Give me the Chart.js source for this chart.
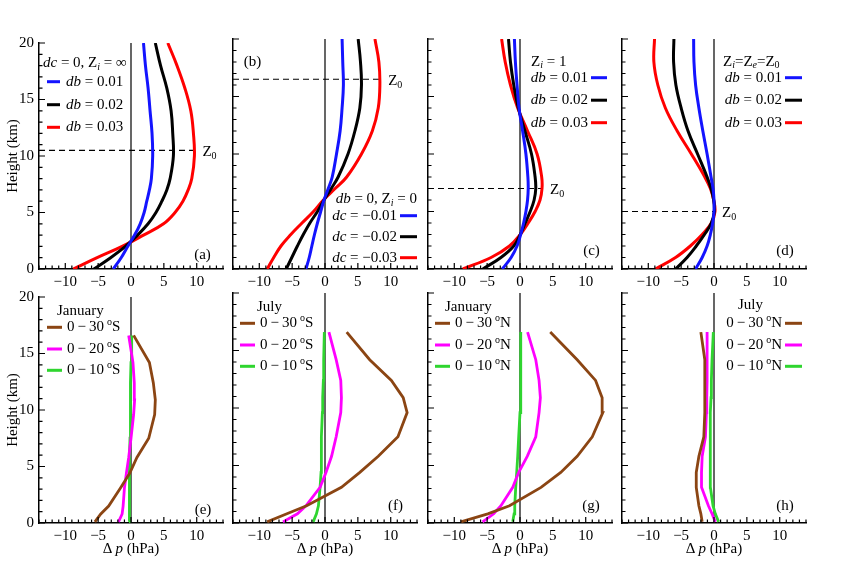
<!DOCTYPE html>
<html>
<head>
<meta charset="utf-8">
<script src="https://cdn.jsdelivr.net/npm/chart.js@4.4.1/dist/chart.umd.min.js"></script>
<style>
  body { margin: 0; background: #fff; width: 844px; height: 563px; position: relative; overflow: hidden; }
  canvas { position: absolute; }
</style>
</head>
<body>
<script>
// heights (km) used for the model curves, top row
const heightsTop = [0, 1, 2, 3, 4, 5, 6, 7, 8, 10, 12, 14, 16, 18, 20];
// (a) dc = 0, Zi = inf
const aBlue  = [-2.7, -1.5, -0.5, 0.55, 1.4, 2.0, 2.4, 2.8, 3.1, 3.3, 3.2, 2.9, 2.6, 2.2, 1.9];
const aBlack = [-5.65, -3.1, -0.85, 1.0, 2.6, 3.8, 4.7, 5.45, 5.95, 6.45, 6.35, 6.1, 5.45, 4.5, 3.7];
const aRed   = [-8.8, -5.15, -1.35, 1.9, 4.95, 6.7, 7.9, 8.7, 9.25, 9.65, 9.5, 9.1, 8.2, 7.0, 5.6];
// (b) db = 0, Zi = 0
const bBlue  = [-2.9, -2.4, -2.0, -1.6, -1.15, -0.65, -0.15, 0.5, 1.1, 1.75, 2.3, 2.6, 2.8, 2.7, 2.6];
const bBlack = [-5.9, -5.05, -4.2, -3.3, -2.3, -1.15, -0.15, 0.95, 2.0, 3.5, 4.55, 5.3, 5.55, 5.4, 5.05];
const bRed   = [-8.8, -7.8, -6.7, -5.2, -3.5, -1.75, -0.25, 1.55, 3.3, 5.55, 7.2, 8.1, 8.35, 8.2, 7.6];
// (c) Zi = 1
const cBlue  = [-2.7, -1.35, -0.45, 0.1, 0.55, 0.9, 1.15, 1.25, 1.2, 0.9, 0.4, -0.15, -0.45, -0.7, -0.85];
const cBlack = [-5.65, -2.9, -0.95, 0.05, 0.8, 1.55, 2.15, 2.4, 2.3, 1.75, 0.75, -0.25, -0.95, -1.45, -1.75];
const cRed   = [-8.7, -4.4, -1.6, 0.05, 1.25, 2.3, 3.05, 3.35, 3.3, 2.6, 1.15, -0.35, -1.45, -2.25, -2.8];
// (d) Zi = Ze = Z0
const dBlue  = [-2.8, -1.8, -1.05, -0.55, -0.2, 0, 0, -0.15, -0.45, -1.05, -1.7, -2.3, -2.8, -3.05, -3.1];
const dBlack = [-5.85, -4.1, -2.7, -1.45, -0.4, 0.05, -0.05, -0.45, -1.05, -2.5, -3.95, -5.0, -5.8, -6.15, -6.1];
const dRed   = [-8.9, -5.85, -3.6, -1.8, -0.4, 0.15, -0.05, -0.55, -1.4, -3.45, -5.6, -7.4, -8.55, -9.15, -9.05];

// observed profiles, bottom row (heights of the pressure levels, km)
const levels = [0.1, 0.8, 1.5, 3.1, 4.4, 5.8, 7.5, 9.6, 10.9, 12.4, 14.2, 16.6];
const eBrown = [-5.5, -4.6, -3.4, -1.6, -0.2, 0.9, 2.7, 3.6, 3.7, 3.4, 2.8, 0.4];
const ePink  = [-1.9, -1.35, -1.2, -1.0, -0.7, -0.35, 0, 0.4, 0.55, 0.5, 0.3, -0.35];
const eGreen = [-0.3, -0.25, -0.25, -0.25, -0.25, -0.2, -0.15, -0.1, -0.1, -0.05, 0, 0.1];
const fBrown = [-8.8, -5.8, -2.8, 2.5, 5.3, 8.1, 11.1, 12.5, 11.9, 10.1, 6.8, 3.3];
const fPink  = [-6.4, -4.2, -2.9, -0.75, 0.15, 1.0, 1.7, 2.4, 2.5, 2.4, 1.7, 0.6];
const fGreen = [-1.8, -1.3, -1.0, -0.75, -0.6, -0.6, -0.5, -0.4, -0.35, -0.25, -0.2, -0.1];
const gBrown = [-9.0, -4.9, -1.6, 3.2, 6.2, 8.7, 11.0, 12.6, 12.5, 11.5, 8.7, 4.6];
const gPink  = [-5.7, -4.0, -2.9, -1.1, -0.2, 1.1, 2.4, 2.9, 3.1, 2.9, 2.4, 1.15];
const gGreen = [-1.1, -0.9, -0.8, -0.65, -0.5, -0.35, -0.2, 0, 0.05, 0.1, 0.15, 0.15];
const hBrown = [-1.8, -2.0, -2.3, -2.7, -2.7, -2.3, -1.55, -1.4, -1.4, -1.4, -1.4, -2.0];
const hPink  = [0.2, -0.3, -0.85, -1.9, -1.9, -1.8, -1.3, -1.15, -1.1, -1.05, -1.05, -1.05];
const hGreen = [0.7, 0.2, -0.15, -0.55, -0.6, -0.6, -0.55, -0.5, -0.45, -0.4, -0.3, -0.1];

// Z0 heights and where the dashed line stops
const z0Levels = [10.5, 16.5, 7.0, 5.0];
const z0Ends   = [9.65, 8.4, 3.35, 0];

const xTickLabels = [-10, -5, 0, 5, 10];
const yTickLabels = [0, 5, 10, 15, 20];

const FONT = '"Liberation Serif", "Times New Roman", serif';
const BLUE = '#1414ff', BLACK = '#000', RED = '#ff0000';
const BROWN = '#8b4513', PINK = '#ff00ff', GREEN = '#2fd52f';

const colLeft = [39, 233, 428, 622];
const rowTop = [39, 293];
const PW = 184, PH = 230, YW = 39;

// rich text: [text, style]  n normal, i italic, s italic subscript, b normal subscript, u superscript
function drawRich(ctx, runs, x, y, align) {
  const parts = runs.map(([t, s = 'n']) => {
    const small = s === 's' || s === 'b' || s === 'u';
    const font = ((s === 'i' || s === 's') ? 'italic ' : '') + (small ? 10 : 15) + 'px ' + FONT;
    ctx.font = font;
    return { t, font, w: ctx.measureText(t).width, dy: s === 'u' ? -5 : (small ? 4 : 0) };
  });
  const total = parts.reduce((acc, p) => acc + p.w, 0);
  let cx = align === 'right' ? x - total : align === 'center' ? x - total / 2 : x;
  ctx.textBaseline = 'middle';
  ctx.textAlign = 'left';
  ctx.fillStyle = '#000';
  for (const p of parts) {
    ctx.font = p.font;
    ctx.fillText(p.t, cx, y + p.dy);
    cx += p.w;
  }
}

const db = v => [['db', 'i'], [' = ' + v]];
const dc = v => [['dc', 'i'], [' = ' + v]];
const lat = (a, h) => [['0\u2009\u2212\u2009' + a + '\u2009'], ['o', 'u'], [h]];

const panels = [
  { col: 0, row: 0, tag: '(a)', tagAt: [163.5, 212],
    series: [[aBlue, BLUE], [aBlack, BLACK], [aRed, RED]], z: 0,
    head: { runs: [['dc', 'i'], [' = 0, Z'], ['i', 's'], [' = \u221e']], x: 4, y: 20, align: 'left' },
    items: [db('0.01'), db('0.02'), db('0.03')], side: 'left',
    lineX: [8, 21], textX: 27, rows: [38.7, 61.7, 84.3] },
  { col: 1, row: 0, tag: '(b)', tagAt: [19.5, 22.7],
    series: [[bBlue, BLUE], [bBlack, BLACK], [bRed, RED]], z: 1,
    head: { runs: [['db', 'i'], [' = 0, Z'], ['i', 's'], [' = 0']], x: 184, y: 160, align: 'right' },
    items: [dc('\u22120.01'), dc('\u22120.02'), dc('\u22120.03')], side: 'right',
    lineX: [167, 184], textX: 164, rows: [176.7, 197.7, 218.7] },
  { col: 2, row: 0, tag: '(c)', tagAt: [163.5, 212],
    series: [[cBlue, BLUE], [cBlack, BLACK], [cRed, RED]], z: 2,
    head: { runs: [['Z'], ['i', 's'], [' = 1']], x: 103, y: 22.7, align: 'left' },
    items: [db('0.01'), db('0.02'), db('0.03')], side: 'right',
    lineX: [163, 179], textX: 160, rows: [38.7, 61.2, 83.7] },
  { col: 3, row: 0, tag: '(d)', tagAt: [163, 212],
    series: [[dBlue, BLUE], [dBlack, BLACK], [dRed, RED]], z: 3,
    head: { runs: [['Z'], ['i', 's'], ['=Z'], ['e', 's'], ['=Z'], ['0', 'b']], x: 101, y: 22.7, align: 'left' },
    items: [db('0.01'), db('0.02'), db('0.03')], side: 'right',
    lineX: [163, 180], textX: 160, rows: [38.7, 61.2, 83.7] },
  { col: 0, row: 1, tag: '(e)', tagAt: [164, 213.5],
    series: [[eBrown, BROWN], [ePink, PINK], [eGreen, GREEN]],
    head: { runs: [['January']], x: 18, y: 13.7, align: 'left' },
    items: [lat('30', 'S'), lat('20', 'S'), lat('10', 'S')], side: 'left',
    lineX: [8, 23], textX: 28, rows: [30.3, 52, 73.3] },
  { col: 1, row: 1, tag: '(f)', tagAt: [162.5, 213.5],
    series: [[fBrown, BROWN], [fPink, PINK], [fGreen, GREEN]],
    head: { runs: [['July']], x: 24, y: 13.7, align: 'left' },
    items: [lat('30', 'S'), lat('20', 'S'), lat('10', 'S')], side: 'left',
    lineX: [7, 22], textX: 27, rows: [30.3, 52, 73.3] },
  { col: 2, row: 1, tag: '(g)', tagAt: [163, 213.5],
    series: [[gBrown, BROWN], [gPink, PINK], [gGreen, GREEN]],
    head: { runs: [['January']], x: 17, y: 13.7, align: 'left' },
    items: [lat('30', 'N'), lat('20', 'N'), lat('10', 'N')], side: 'left',
    lineX: [7, 22], textX: 27, rows: [30.3, 52, 73.3] },
  { col: 3, row: 1, tag: '(h)', tagAt: [163, 213.5],
    series: [[hBrown, BROWN], [hPink, PINK], [hGreen, GREEN]],
    head: { runs: [['July']], x: 116, y: 12, align: 'left' },
    items: [lat('30', 'N'), lat('20', 'N'), lat('10', 'N')], side: 'right',
    lineX: [163, 180], textX: 160, rows: [30.3, 52, 73.3] }
];

panels.forEach(p => {
  const top = p.row === 0;
  const xh = top ? 22 : 40;
  const heights = top ? heightsTop : levels;
  const showY = p.col === 0;

  const cv = document.createElement('canvas');
  cv.width = YW + PW + 12;
  cv.height = 10 + PH + xh;
  cv.style.left = (colLeft[p.col] - YW) + 'px';
  cv.style.top = (rowTop[p.row] - 10) + 'px';
  document.body.appendChild(cv);

  const datasets = p.series.map(([vals, color]) => ({
    data: heights.map((h, i) => ({ x: vals[i], y: h })),
    showLine: true, borderColor: color, borderWidth: top ? 3 : 2.8,
    pointRadius: 0, tension: top ? 0.4 : 0, fill: false
  }));
  if (p.z !== undefined) {
    datasets.push({
      data: [{ x: -14, y: z0Levels[p.z] }, { x: z0Ends[p.z], y: z0Levels[p.z] }],
      showLine: true, borderColor: '#000', borderWidth: 1.2, borderDash: [6, 4],
      pointRadius: 0, fill: false
    });
  }
  datasets.push({
    data: [{ x: 0, y: 0 }, { x: 0, y: 20 }],
    showLine: true, borderColor: '#000', borderWidth: 1.2, pointRadius: 0, fill: false
  });

  const deco = {
    id: 'deco',
    afterDraw(chart) {
      const { ctx, chartArea: a, scales: { x, y } } = chart;
      ctx.save();
      // inward ticks
      ctx.strokeStyle = '#000';
      ctx.lineWidth = 1.2;
      ctx.beginPath();
      for (let v = -14; v <= 14; v++) {
        const px = x.getPixelForValue(v);
        const L = v % 5 === 0 ? 6 : 3.5;
        ctx.moveTo(px, a.bottom); ctx.lineTo(px, a.bottom - L);
      }
      for (let v = 0; v <= 20; v++) {
        const py = y.getPixelForValue(v);
        const L = v % 5 === 0 ? 6 : 3.5;
        ctx.moveTo(a.left, py); ctx.lineTo(a.left + L, py);
      }
      ctx.stroke();

      // legend
      drawRich(ctx, p.head.runs, a.left + p.head.x, a.top + p.head.y, p.head.align);
      p.items.forEach((runs, i) => {
        const yy = a.top + p.rows[i];
        ctx.strokeStyle = p.series[i][1];
        ctx.lineWidth = 3;
        ctx.beginPath();
        ctx.moveTo(a.left + p.lineX[0], yy); ctx.lineTo(a.left + p.lineX[1], yy);
        ctx.stroke();
        drawRich(ctx, runs, a.left + p.textX, yy, p.side === 'left' ? 'left' : 'right');
      });

      // panel tag
      drawRich(ctx, [[p.tag]], a.left + p.tagAt[0], a.top + p.tagAt[1], 'center');

      // Z0 label
      if (p.z !== undefined) {
        drawRich(ctx, [['Z'], ['0', 'b']],
          x.getPixelForValue(z0Ends[p.z]) + 8, y.getPixelForValue(z0Levels[p.z]) + 2, 'left');
      }

      // x title on bottom row
      if (!top) {
        drawRich(ctx, [['\u0394\u2009'], ['p', 'i'], [' (hPa)']], (a.left + a.right) / 2, a.bottom + 26, 'center');
      }
      ctx.restore();
    }
  };

  new Chart(cv, {
    type: 'scatter',
    data: { datasets },
    options: {
      responsive: false,
      animation: false,
      events: [],
      layout: { padding: { top: 10, right: 12, left: 0, bottom: 0 } },
      plugins: { legend: { display: false }, tooltip: { enabled: false } },
      scales: {
        x: {
          type: 'linear', min: -14, max: 14,
          grid: { display: false, drawTicks: false },
          border: { display: true, color: '#000', width: 1.5 },
          afterBuildTicks: s => { s.ticks = xTickLabels.map(v => ({ value: v })); },
          afterFit: s => { s.height = xh; },
          ticks: {
            color: '#000', font: { family: FONT, size: 15 }, padding: 4,
            maxRotation: 0, autoSkip: false,
            callback: v => v < 0 ? '\u2212' + (-v) : String(v)
          }
        },
        y: {
          type: 'linear', min: 0, max: 20,
          grid: { display: false, drawTicks: false },
          border: { display: true, color: '#000', width: 1.5 },
          afterBuildTicks: s => { s.ticks = yTickLabels.map(v => ({ value: v })); },
          afterFit: s => { s.width = YW; },
          title: {
            display: showY, text: 'Height (km)', color: '#000',
            font: { family: FONT, size: 15 }, padding: { top: 4, bottom: 0 }
          },
          ticks: {
            display: showY, color: '#000', font: { family: FONT, size: 15 }, padding: 5
          }
        }
      }
    },
    plugins: [deco]
  });
});
</script>
</body>
</html>
